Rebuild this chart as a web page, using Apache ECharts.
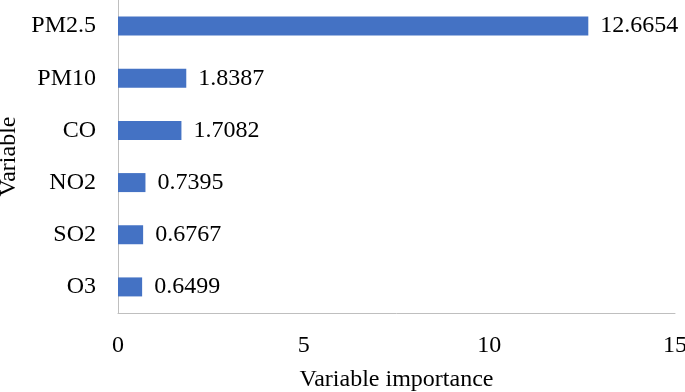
<!DOCTYPE html>
<html>
<head>
<meta charset="utf-8">
<script src="https://cdn.jsdelivr.net/npm/echarts@6/dist/echarts.min.js"></script>
<style>html,body{margin:0;padding:0;background:#fff}#c{width:685px;height:392px}</style>
</head>
<body>
<div id="c"></div>
<script>
var categories = ['O3', 'SO2', 'NO2', 'CO', 'PM10', 'PM2.5'];
var importance = [0.6499, 0.6767, 0.7395, 1.7082, 1.8387, 12.6654];
var xTicks = [0, 5, 10, 15];

var font = 'Liberation Serif, Times New Roman, serif';
var chart = echarts.init(document.getElementById('c'), null, {renderer: 'canvas'});
chart.setOption({
  animation: false,
  grid: {left: 118, right: 10, top: 0, bottom: 79, containLabel: false, outerBoundsMode: 'none'},
  xAxis: {
    type: 'value',
    min: xTicks[0], max: xTicks[xTicks.length - 1], interval: 5,
    name: 'Variable importance',
    nameLocation: 'middle', nameGap: 55,
    nameTextStyle: {fontFamily: font, fontSize: 24, color: '#000'},
    axisLine: {show: true, lineStyle: {color: '#bfbfbf', width: 1}},
    axisTick: {show: false},
    splitLine: {show: false},
    axisLabel: {fontFamily: font, fontSize: 24, color: '#000', margin: 21}
  },
  yAxis: {
    type: 'category',
    data: categories,
    name: 'Variable',
    nameLocation: 'middle', nameGap: 92, nameRotate: 90,
    nameTextStyle: {fontFamily: font, fontSize: 24, color: '#000'},
    axisLine: {show: true, lineStyle: {color: '#bfbfbf', width: 1}},
    axisTick: {show: false},
    axisLabel: {fontFamily: font, fontSize: 24, color: '#000', margin: 22}
  },
  series: [{
    type: 'bar',
    data: importance,
    barWidth: 19,
    itemStyle: {color: '#4472C4'},
    label: {
      show: true, position: 'right', distance: 12,
      fontFamily: font, fontSize: 24, color: '#000',
      formatter: function (p) { return p.value.toFixed(4); }
    }
  }]
});
</script>
</body>
</html>
